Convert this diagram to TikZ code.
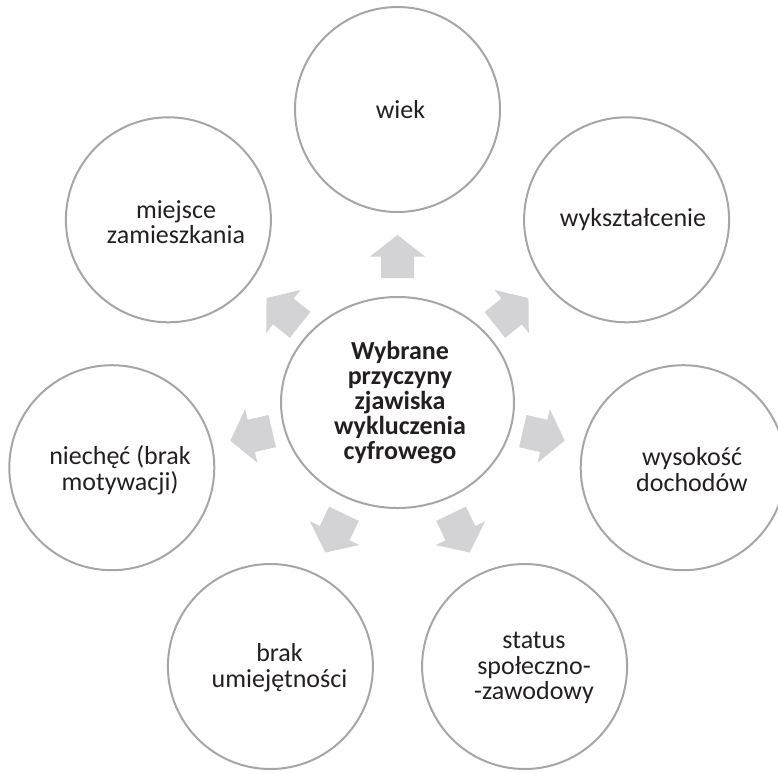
\documentclass[tikz,border=0pt]{standalone}
\usepackage{fontspec}
\setmainfont{Carlito}
\usetikzlibrary{shapes.geometric}
\definecolor{ring}{RGB}{166,166,170}
\definecolor{arrowfill}{RGB}{211,211,213}
\definecolor{ink}{RGB}{35,31,32}
\begin{document}
\begin{tikzpicture}[x=1pt,y=-1pt,
  outer/.style={circle, draw=ring, line width=2pt, minimum size=205pt, inner sep=0pt},
  hub/.style={ellipse, draw=ring, line width=2pt, minimum width=233pt, minimum height=211pt, inner sep=0pt},
  lbl/.style={align=center, text=ink, font=\fontsize{26}{25.5}\selectfont, inner sep=0pt},
  hublbl/.style={lbl, font=\fontsize{26}{25}\selectfont\bfseries},
  blockarrow/.pic={\fill[arrowfill] (-21.5,-16.5) -- (0,-16.5) -- (0,-27.5) -- (21.5,0) -- (0,27.5) -- (0,16.5) -- (-21.5,16.5) -- cycle;}
]
\useasboundingbox (0,0) rectangle (778,772);
\coordinate (O) at (397.5,402.5);
% block arrows
\foreach \a/\d in {90/146, 38.57/146, -12.86/150, -64.29/145, -115.71/145, 192.86/150, 141.43/146}{
  \begin{scope}[shift={(O)}, rotate=\a]
    \pic[transform shape] at (\d,0) {blockarrow};
  \end{scope}
}
% hub
\node[hub] (hub) at (O) {};
\node[hublbl] (hubt) at (400,403) {Wybrane\\przyczyny\\zjawiska\\wykluczenia\\cyfrowego};
% outer circles
\node[outer] (wiek) at (397.5,109.5) {};
\node[outer] (wyks) at (626.6,219.8) {};
\node[outer] (wys) at (683.2,467.7) {};
\node[outer] (stat) at (524.6,666.5) {};
\node[outer] (brak) at (270.4,666.5) {};
\node[outer] (niech) at (111.8,467.7) {};
\node[outer] (miej) at (168.4,219.8) {};
% labels
\node[lbl] (wiekt) at (400.5,110) {wiek};
\node[lbl] (wykst) at (633,220) {wykształcenie};
\node[lbl] (wyst) at (692,469.5) {wysokość\\dochodów};
\node[lbl] (statt) at (534,668) {status\\społeczno-\\-zawodowy};
\node[lbl] (brakt) at (279.5,667.5) {brak\\umiejętności};
\node[lbl] (niecht) at (120,470) {niechęć (brak\\motywacji)};
\node[lbl] (miejt) at (176,222) {miejsce\\zamieszkania};
\end{tikzpicture}
\end{document}
